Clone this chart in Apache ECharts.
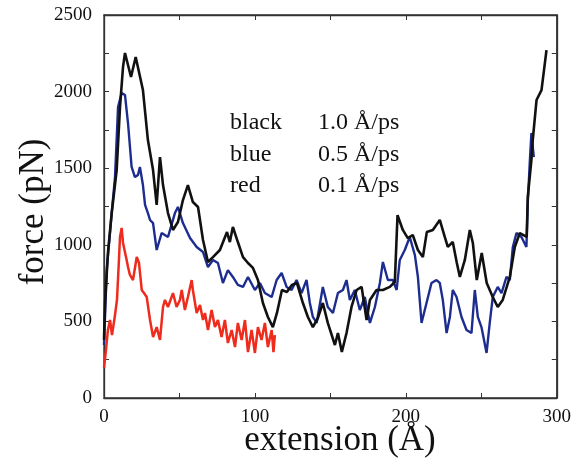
<!DOCTYPE html>
<html><head><meta charset="utf-8">
<script src="https://cdn.jsdelivr.net/npm/echarts@6/dist/echarts.min.js"></script>
<style>html,body{margin:0;padding:0;background:#fff}#c{width:574px;height:464px}</style>
</head><body><div id="c"></div>
<script>
// extension (Å) and force (pN) for each pulling speed
const blackX = [0,0.7,2.6,5.1,8.4,10.6,12.6,13.9,17.9,21.0,25.8,29.1,32.5,34.9,37.1,39.1,42.4,45.7,49.0,52.3,55.6,58.9,62.3,65.6,68.9,72.2,76.8,81.5,83.4,85.4,88.7,92.1,95.4,98.7,102.0,105.3,108.6,111.9,114.6,117.9,121.2,124.5,127.8,131.8,135.1,138.4,141.7,145.0,148.3,153.0,155.0,157.6,160.7,164.0,167.4,170.7,174.0,176.2,180.6,184.8,189.4,192.7,194.5,198.0,201.3,204.6,208.0,211.3,213.9,217.9,222.5,225.8,227.8,231.1,233.8,235.8,239.1,242.4,244.4,247.0,250.3,253.6,257.6,260.9,264.2,268.9,272.2,275.5,280.1,280.8,283.2,284.1,286.6,289.9,293.2];
const blackY = [380,620,946,1207,1488,1899,2160,2252,2095,2226,2010,1684,1488,1260,1573,1390,1207,1097,1149,1292,1390,1279,1247,1031,888,920,966,1083,1018,1116,1018,920,881,849,770,620,529,463,555,705,692,738,751,620,529,463,522,620,490,346,424,300,424,594,705,725,509,640,705,705,725,757,1194,1097,1044,1064,966,920,1083,1097,1162,1051,986,1018,881,790,901,1097,1012,770,946,751,659,594,640,790,986,1077,1051,1312,1553,1684,1945,2010,2271];

const blueX = [0,1.8,5.1,7.3,9.3,11.7,13.9,15.9,18.3,20.5,22.5,23.8,25.8,27.2,29.1,30.5,32.5,34.9,38.2,42.4,47.0,49.0,52.3,57.0,61.4,65.6,68.9,72.2,75.5,78.8,82.1,85.4,88.7,92.1,95.4,100.0,103.3,106.6,111.1,114.4,117.7,121.0,124.3,127.6,130.9,134.2,136.4,138.4,140.9,145.0,148.3,151.7,155.0,158.3,160.7,162.9,166.2,169.5,172.8,176.2,179.5,182.8,184.8,188.1,191.4,193.9,196.0,199.3,202.6,206.0,208.0,210.4,213.7,217.0,220.3,222.5,224.5,227.0,229.2,231.1,233.6,236.9,240.2,243.5,245.7,247.7,250.1,253.5,255.6,257.6,260.9,263.4,266.7,268.9,270.9,273.3,276.6,279.9,280.8,282.1,283.2,284.8];
const blueY = [346,835,1207,1442,1899,1991,1978,1795,1508,1442,1456,1508,1390,1260,1207,1162,1142,966,1077,1051,1207,1247,1142,1044,986,953,855,901,881,751,835,790,738,725,790,705,751,685,659,770,816,725,705,770,685,770,620,529,490,725,594,555,685,705,770,640,705,574,659,490,594,751,888,770,770,705,901,966,1051,933,790,490,620,751,770,751,640,424,529,705,659,529,444,424,705,529,463,294,490,659,725,685,790,770,986,1077,1051,986,1273,1534,1730,1573];

const redX = [0,1.3,2.6,4.0,5.3,7.3,8.6,9.9,10.6,11.7,12.6,13.9,15.0,15.9,17.2,19.2,21.7,23.2,25.0,26.5,28.3,30.5,32.5,34.9,37.1,39.1,40.4,42.4,43.7,45.7,48.1,50.3,51.5,53.6,55.6,58.1,58.9,61.4,63.6,65.6,66.9,68.9,71.3,73.5,75.5,77.9,80.1,82.1,84.6,86.8,88.7,91.2,93.4,95.4,97.8,100.0,102.0,104.4,106.6,108.6,111.1,112.3,113.2];
const redY = [196,313,444,509,411,542,640,901,1051,1110,1012,1012,901,855,803,770,920,881,705,685,659,509,398,463,379,594,640,594,594,685,594,640,705,574,659,770,705,555,607,509,555,444,574,463,509,398,509,359,444,333,490,379,509,300,444,294,463,379,490,333,444,300,411];

const xTicks = [0,100,200,300];
const yTicks = [0,500,1000,1500,2000,2500];
const legendNames = ['black','blue','red'];
const legendSpeeds = ['1.0 Å/ps','0.5 Å/ps','0.1 Å/ps'];
const xTitle = 'extension (Å)';
const yTitle = 'force (pN)';

const pairs = (xs, ys) => xs.map((x, i) => [x, ys[i]]);
const serif = '"Liberation Serif","DejaVu Serif",serif';

const chart = echarts.init(document.getElementById('c'), null, {renderer:'canvas'});
const axisCommon = {
  axisLine:{show:true, onZero:false, lineStyle:{color:'#333', width:1.3}},
  axisTick:{show:true, inside:true, length:5, lineStyle:{color:'#333', width:1}},
  splitLine:{show:false}
};
const graphics = [];
legendNames.forEach((n, i) => {
  graphics.push({type:'text', x:230, y:123 + i*31.5, style:{text:n, font:'24px ' + serif, fill:'#111', textVerticalAlign:'middle'}});
  graphics.push({type:'text', x:318, y:123 + i*31.5, style:{text:legendSpeeds[i], font:'24px ' + serif, fill:'#111', textVerticalAlign:'middle'}});
});
graphics.push({type:'text', x:340, y:441, style:{text:xTitle, font:'35px ' + serif, fill:'#111', textAlign:'center', textVerticalAlign:'middle'}});
graphics.push({type:'text', x:34, y:212, rotation:Math.PI/2, style:{text:yTitle, font:'35px ' + serif, fill:'#111', textAlign:'center', textVerticalAlign:'middle'}});

chart.setOption({
  animation:false,
  backgroundColor:'#fff',
  grid:{left:104, right:17, top:15, bottom:66, show:true, borderColor:'#333', borderWidth:1.3, backgroundColor:'transparent'},
  xAxis:[
    Object.assign({type:'value', min:0, max:300, interval:50, position:'bottom',
      axisLabel:{show:true, margin:10, fontFamily:serif, fontSize:19, color:'#111',
        formatter:v => xTicks.includes(v) ? String(v) : ''}}, axisCommon),
    Object.assign({type:'value', min:0, max:300, interval:50, position:'top', axisLabel:{show:false}}, axisCommon)
  ],
  yAxis:[
    Object.assign({type:'value', min:0, max:2500, interval:250, position:'left',
      axisLabel:{show:true, margin:12, fontFamily:serif, fontSize:19, color:'#111',
        formatter:v => yTicks.includes(v) ? String(v) : ''}}, axisCommon),
    Object.assign({type:'value', min:0, max:2500, interval:250, position:'right', axisLabel:{show:false}}, axisCommon)
  ],
  graphic: graphics,
  series:[
    {type:'line', name:'red', data:pairs(redX, redY), showSymbol:false, lineStyle:{color:'#ee2b1c', width:2.5}, itemStyle:{color:'#ee2b1c'}, z:2},
    {type:'line', name:'blue', data:pairs(blueX, blueY), showSymbol:false, lineStyle:{color:'#1d2d8f', width:2.4}, itemStyle:{color:'#1d2d8f'}, z:3},
    {type:'line', name:'black', data:pairs(blackX, blackY), showSymbol:false, lineStyle:{color:'#111', width:2.6}, itemStyle:{color:'#111'}, z:4}
  ]
});
</script></body></html>
